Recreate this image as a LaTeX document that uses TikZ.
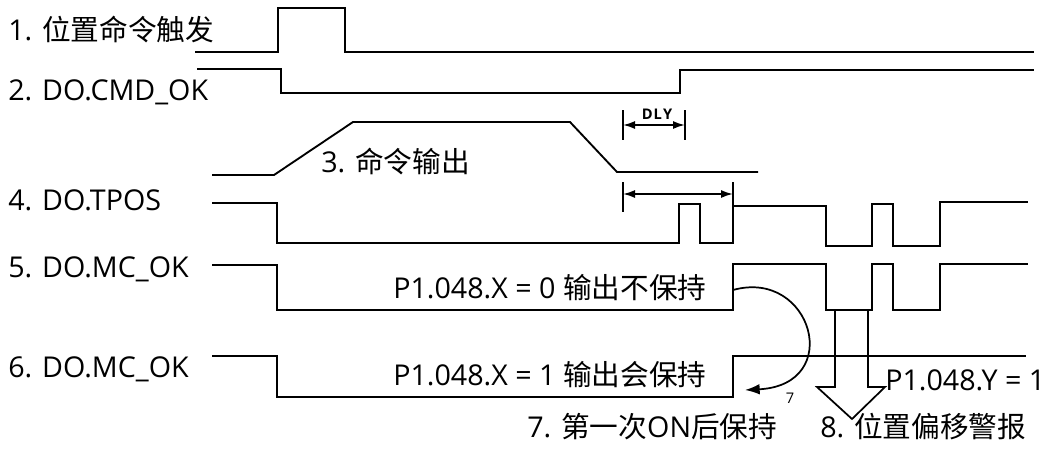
\documentclass[tikz,border=0pt]{standalone}
\usepackage{fontspec}
\setmainfont{Open Sans}
\newfontfamily\cjk{Noto Sans CJK SC}
\usetikzlibrary{arrows.meta}
\begin{document}
\begin{tikzpicture}[x=0.75pt,y=-0.75pt,
  sig/.style={line width=1.4pt, line join=miter},
  dim/.style={line width=1.3pt},
  dimarrow/.style={line width=1.3pt, {Latex[length=9pt,width=6pt]}-{Latex[length=9pt,width=6pt]}},
  lbl/.style={font=\fontsize{21.5}{26}\selectfont, inner sep=0pt, anchor=base west},
  small/.style={font=\fontsize{11}{12}\selectfont, inner sep=0pt}]
\useasboundingbox (0,0) rectangle (1058,450);

% labels
\node[lbl] (l1) at (8,40) {1. {\cjk 位置命令触发}};
\node[lbl] (l2) at (8,100) {2. DO.CMD\_OK};
\node[lbl] (l3) at (321,172) {3. {\cjk 命令输出}};
\node[lbl] (l4) at (8,210) {4. DO.TPOS};
\node[lbl] (l5) at (8,277) {5. DO.MC\_OK};
\node[lbl] (l6) at (8,377) {6. DO.MC\_OK};
\node[lbl] (px0) at (393,298) {P1.048.X = 0 {\cjk 输出不保持}};
\node[lbl] (px1) at (393,385) {P1.048.X = 1 {\cjk 输出会保持}};
\node[lbl] (py1) at (885,390) {P1.048.Y = 1};
\node[lbl] (l7) at (527,437) {7. {\cjk 第一次}ON{\cjk 后保持}};
\node[lbl] (l8) at (820,437) {8. {\cjk 位置偏移警报}};
\node[small, font=\fontsize{11}{12}\selectfont\bfseries] (dly) at (657,114) {D\kern0.8pt L\kern0.8pt Y};
\node[small] (n7) at (790,398) {7};

% signal 1
\draw[sig] (195,52) -- (278,52) -- (278,8) -- (345,8) -- (345,52) -- (1034,52);
% signal 2
\draw[sig] (197,69) -- (281,69) -- (281,93) -- (680,93) -- (680,70) -- (1034,70);
% signal 3
\draw[sig] (212,175) -- (274,175) -- (353,122) -- (570,122) -- (617,172) -- (758,172);
% signal 4
\draw[sig] (212,203) -- (277,203) -- (277,243) -- (679,243) -- (679,204) -- (700,204)
  -- (700,243) -- (733,243) -- (733,206) -- (826,206) -- (826,246) -- (872,246)
  -- (872,204) -- (893,204) -- (893,246) -- (940,246) -- (940,202) -- (1028,202);
% signal 5
\draw[sig] (212,265) -- (277,265) -- (277,310) -- (733,310) -- (733,264) -- (826,264)
  -- (826,310) -- (872,310) -- (872,264) -- (893,264) -- (893,310) -- (940,310)
  -- (940,264) -- (1028,264);
% signal 6
\draw[sig] (212,356) -- (277,356) -- (277,397) -- (733,397) -- (733,356) -- (1026,356);

% DLY dimension
\coordinate (d1a) at (623,110); \coordinate (d1b) at (623,140);
\coordinate (d2a) at (685,110); \coordinate (d2b) at (685,140);
\draw[dim] (d1a) -- (d1b);
\draw[dim] (d2a) -- (d2b);
\draw[dimarrow] (623,125) -- (685,125);

% second dimension
\coordinate (e1a) at (623,182); \coordinate (e1b) at (623,212);
\coordinate (e2a) at (733,182); \coordinate (e2b) at (733,206);
\draw[dim] (e1a) -- (e1b);
\draw[dim] (e2a) -- (e2b);
\draw[dimarrow] (623,194) -- (733,194);

% curved arrow 7
\coordinate (c7s) at (733,290);
\coordinate (c7e) at (745,390);
\draw[line width=1.3pt, -{Latex[length=11pt,width=8pt]}] (c7s) .. controls (812,268) and (845,385) .. (c7e);

% hollow arrow 8
\draw[line width=1.3pt, line join=miter] (835,310) -- (835,387) -- (817,387) -- (852,419)
  -- (885,387) -- (868,387) -- (868,310);
\end{tikzpicture}
\end{document}
